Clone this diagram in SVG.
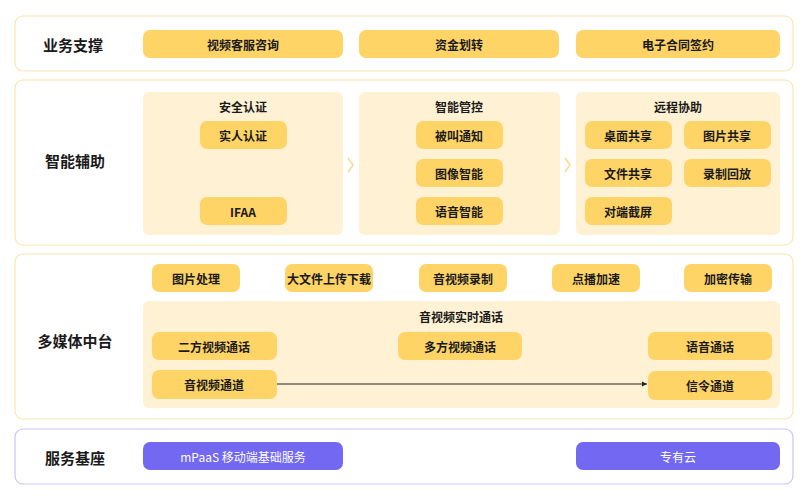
<svg xmlns="http://www.w3.org/2000/svg" width="811" height="500" viewBox="0 0 811 500">
<style>
text{font-family:"Noto Sans CJK SC","Liberation Sans",sans-serif;text-anchor:middle;dominant-baseline:central;fill:#1a1a1a}
.row{fill:#fff;stroke:#fbe6b0;stroke-width:1.2}
.rowp{fill:#fff;stroke:#cbc4f6;stroke-width:1.2}
.lbl{font-size:15px;font-weight:bold}
.btn{fill:#ffd467}
.pan{fill:#fff2d4}
.t{font-size:12px;font-weight:bold}
.pb{fill:#7268f2}
.w{font-size:12px;fill:#fff}
.chev{fill:none;stroke:#fbd98a;stroke-width:1.5}
</style>
<defs><marker id="ah" markerWidth="6" markerHeight="6" refX="5" refY="3" orient="auto"><path d="M0,0.5 L5,3 L0,5.5Z" fill="#222"/></marker></defs>
<rect width="811" height="500" fill="#fff"/>
<g id="row1">
<rect class="row" x="15" y="16" width="778" height="55" rx="8"/>
<text class="lbl" x="73" y="44">业务支撑</text>
<rect class="btn" x="143" y="30" width="200" height="28" rx="7"/><text class="t" x="243" y="44">视频客服咨询</text>
<rect class="btn" x="359" y="30" width="200" height="28" rx="7"/><text class="t" x="459" y="44">资金划转</text>
<rect class="btn" x="576" y="30" width="204" height="28" rx="7"/><text class="t" x="678" y="44">电子合同签约</text>
</g>
<g id="row2">
<rect class="row" x="15" y="80" width="778" height="165" rx="8"/>
<text class="lbl" x="75" y="160">智能辅助</text>
<rect class="pan" x="143" y="92" width="200" height="143" rx="6"/><text class="t" x="243" y="106">安全认证</text>
<rect class="btn" x="200" y="121" width="87" height="28" rx="7"/><text class="t" x="243" y="135">实人认证</text>
<rect class="btn" x="200" y="197" width="87" height="28" rx="7"/><text class="t" x="243" y="211">IFAA</text>
<path class="chev" d="M348,158 L353,165 L348,172"/>
<rect class="pan" x="359" y="92" width="201" height="143" rx="6"/><text class="t" x="459" y="106">智能管控</text>
<rect class="btn" x="416" y="121" width="87" height="28" rx="7"/><text class="t" x="459" y="135">被叫通知</text>
<rect class="btn" x="416" y="159" width="87" height="28" rx="7"/><text class="t" x="459" y="173">图像智能</text>
<rect class="btn" x="416" y="197" width="87" height="28" rx="7"/><text class="t" x="459" y="211">语音智能</text>
<path class="chev" d="M565,158 L570,165 L565,172"/>
<rect class="pan" x="576" y="92" width="204" height="143" rx="6"/><text class="t" x="678" y="106">远程协助</text>
<rect class="btn" x="585" y="121" width="87" height="28" rx="7"/><text class="t" x="628" y="135">桌面共享</text>
<rect class="btn" x="684" y="121" width="87" height="28" rx="7"/><text class="t" x="727" y="135">图片共享</text>
<rect class="btn" x="585" y="159" width="87" height="28" rx="7"/><text class="t" x="628" y="173">文件共享</text>
<rect class="btn" x="684" y="159" width="87" height="28" rx="7"/><text class="t" x="727" y="173">录制回放</text>
<rect class="btn" x="585" y="197" width="87" height="28" rx="7"/><text class="t" x="628" y="211">对端截屏</text>
</g>
<g id="row3">
<rect class="row" x="15" y="254" width="778" height="165" rx="8"/>
<text class="lbl" x="75" y="340">多媒体中台</text>
<rect class="btn" x="152" y="264" width="88" height="28" rx="7"/><text class="t" x="196" y="278">图片处理</text>
<rect class="btn" x="285" y="264" width="88" height="28" rx="7"/><text class="t" x="329" y="278">大文件上传下载</text>
<rect class="btn" x="419" y="264" width="88" height="28" rx="7"/><text class="t" x="463" y="278">音视频录制</text>
<rect class="btn" x="552" y="264" width="88" height="28" rx="7"/><text class="t" x="596" y="278">点播加速</text>
<rect class="btn" x="684" y="264" width="88" height="28" rx="7"/><text class="t" x="728" y="278">加密传输</text>
<rect class="pan" x="143" y="301" width="637" height="107" rx="6"/><text class="t" x="461" y="316">音视频实时通话</text>
<rect class="btn" x="152" y="332" width="125" height="28" rx="7"/><text class="t" x="214" y="346">二方视频通话</text>
<rect class="btn" x="398" y="332" width="124" height="28" rx="7"/><text class="t" x="460" y="346">多方视频通话</text>
<rect class="btn" x="648" y="332" width="124" height="28" rx="7"/><text class="t" x="710" y="346">语音通话</text>
<rect class="btn" x="152" y="370" width="125" height="29" rx="7"/><text class="t" x="214" y="384">音视频通道</text>
<rect class="btn" x="648" y="371" width="124" height="29" rx="7"/><text class="t" x="710" y="385">信令通道</text>
</g>
<g id="connectors">
<line x1="277" y1="384" x2="647" y2="384" stroke="#222" stroke-width="1" marker-end="url(#ah)"/>
</g>
<g id="row4">
<rect class="rowp" x="15" y="429" width="778" height="55" rx="8"/>
<text class="lbl" x="75" y="457">服务基座</text>
<rect class="pb" x="143" y="442" width="200" height="28" rx="7"/><text class="w" x="243" y="456">mPaaS 移动端基础服务</text>
<rect class="pb" x="576" y="442" width="204" height="28" rx="7"/><text class="w" x="678" y="456">专有云</text>
</g>
</svg>
